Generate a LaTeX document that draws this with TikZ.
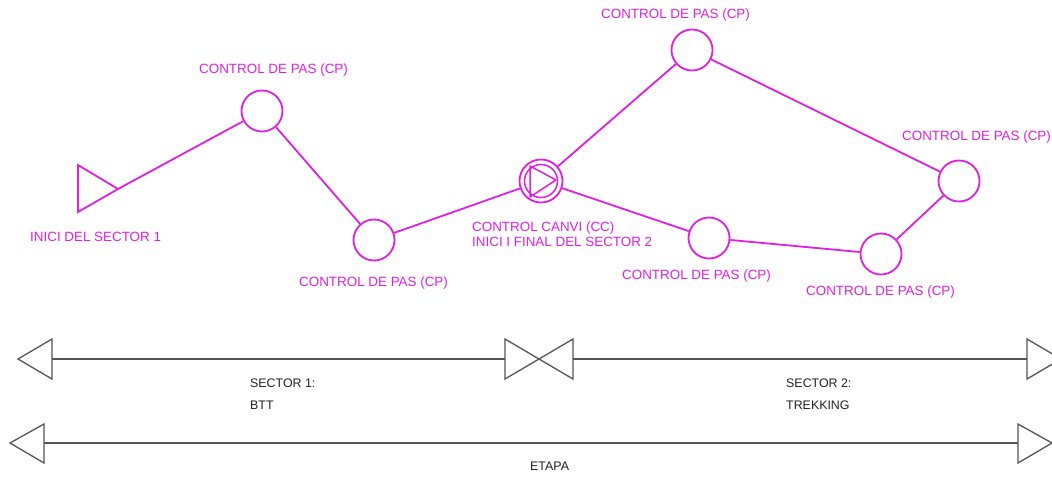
\documentclass[tikz,border=0pt]{standalone}
\usepackage{fontspec}
\setmainfont{Liberation Sans}
\begin{document}
\begin{tikzpicture}[x=1pt,y=-1pt,
  route/.style={draw=mag,line width=1.8pt},
  cp/.style={circle,draw=mag,line width=1.8pt,minimum size=41pt,inner sep=0pt},
  lbl/.style={text=mag,font=\fontsize{13.4}{14}\selectfont,inner sep=0pt,anchor=west},
  dim/.style={draw=dimgray,line width=1.3pt},
  dlbl/.style={text=dimtext,font=\fontsize{12.4}{13}\selectfont,inner sep=0pt,anchor=west}]
\definecolor{mag}{HTML}{E020E0}
\definecolor{dimgray}{HTML}{555555}
\definecolor{dimtext}{HTML}{222222}
\useasboundingbox (0,0) rectangle (1052,479);
\begin{scope}
\clip (0,0) rectangle (1052,479);
% start triangle
\draw[route,line join=miter] (78,165) -- (118,189) -- (78,212) -- cycle;
\coordinate (s) at (118,189);
% control points
\node[cp] (cp1) at (262,111) {};
\node[cp] (cp2) at (374,240) {};
\node[cp,minimum size=43pt] (cc) at (541,181) {};
\node[circle,draw=mag,line width=1.5pt,minimum size=33pt,inner sep=0pt] (cci) at (541,181) {};
\draw[route,line width=1.5pt,line join=round] (530,166) -- (556,180) -- (530,197) -- cycle;
\node[cp] (cp3) at (692,50) {};
\node[cp] (cp4) at (959,181) {};
\node[cp] (cp5) at (709,238) {};
\node[cp] (cp6) at (881,254) {};
% route
\draw[route] (s) -- (cp1);
\draw[route] (cp1) -- (cp2);
\draw[route] (cp2) -- (cc);
\draw[route] (cc) -- (cp3);
\draw[route] (cp3) -- (cp4);
\draw[route] (cp4) -- (cp6);
\draw[route] (cp6) -- (cp5);
\draw[route] (cp5) -- (cc);
% labels
\node[lbl] (l1) at (30,237) {INICI DEL SECTOR 1};
\node[lbl] (l2) at (199,70) {CONTROL DE PAS (CP)};
\node[lbl] (l3) at (299,283) {CONTROL DE PAS (CP)};
\node[lbl] (l4) at (472,228) {CONTROL CANVI (CC)};
\node[lbl] (l5) at (472,242) {INICI I FINAL DEL SECTOR 2};
\node[lbl] (l6) at (601,15) {CONTROL DE PAS (CP)};
\node[lbl] (l7) at (902,137) {CONTROL DE PAS (CP)};
\node[lbl] (l8) at (622,276) {CONTROL DE PAS (CP)};
\node[lbl] (l9) at (806,292) {CONTROL DE PAS (CP)};
% dimension line 1
\draw[dim] (18,359) -- (52,339) -- (52,379) -- cycle;
\draw[dim] (505,339) -- (573,379) -- (573,339) -- (505,379) -- cycle;
\draw[dim] (1027,339) -- (1061,359) -- (1027,379) -- cycle;
\coordinate (a1) at (52,359);
\coordinate (a2) at (505,359);
\coordinate (a3) at (573,359);
\coordinate (a4) at (1027,359);
\draw[dim] (a1) -- (a2);
\draw[dim] (a3) -- (a4);
% dimension line 2
\draw[dim] (10,443) -- (44,424) -- (44,463) -- cycle;
\draw[dim] (1018,424) -- (1052,443) -- (1018,463) -- cycle;
\coordinate (b1) at (44,443);
\coordinate (b2) at (1018,443);
\draw[dim] (b1) -- (b2);
% dimension labels
\node[dlbl] (d1) at (250,383) {SECTOR 1:};
\node[dlbl] (d2) at (250,405) {BTT};
\node[dlbl] (d3) at (786,383) {SECTOR 2:};
\node[dlbl] (d4) at (786,405) {TREKKING};
\node[dlbl] (d5) at (530,466) {ETAPA};
\end{scope}
\end{tikzpicture}
\end{document}
